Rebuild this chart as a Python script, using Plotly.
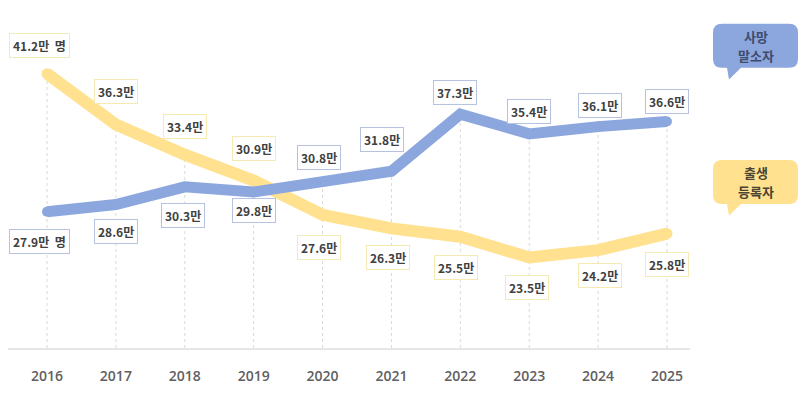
import plotly.graph_objects as go

years = [2016, 2017, 2018, 2019, 2020, 2021, 2022, 2023, 2024, 2025]
births = [41.2, 36.3, 33.4, 30.9, 27.6, 26.3, 25.5, 23.5, 24.2, 25.8]
deaths = [27.9, 28.6, 30.3, 29.8, 30.8, 31.8, 37.3, 35.4, 36.1, 36.6]
birth_labels = ["41.2만  명", "36.3만", "33.4만", "30.9만", "27.6만", "26.3만", "25.5만", "23.5만", "24.2만", "25.8만"]
death_labels = ["27.9만  명", "28.6만", "30.3만", "29.8만", "30.8만", "31.8만", "37.3만", "35.4만", "36.1만", "36.6만"]
tick_labels = [str(y) for y in years]
legend_death = ["사망", "말소자"]
legend_birth = ["출생", "등록자"]

YELLOW = "#FFE18F"
BLUE = "#8CA6DE"
W, H = 800, 393
ML, MR, MT, MB = 8, 110, 10, 38
PW, PH = W - ML - MR, H - MT - MB

def px_to_paper(px, py):
    return (px - ML) / PW, (H - MB - py) / PH

fig = go.Figure()

# vertical dotted guides from baseline up to the higher point
for x, b, d in zip(years, births, deaths):
    fig.add_shape(type="line", xref="x", yref="y", x0=x, x1=x, y0=14.78, y1=max(b, d),
                  line=dict(color="#d9d9d9", width=1, dash="dot"), layer="below")

fig.add_trace(go.Scatter(x=years, y=births, mode="lines+markers",
                         line=dict(color=YELLOW, width=12),
                         marker=dict(color=YELLOW, size=11), hoverinfo="skip"))
fig.add_trace(go.Scatter(x=years, y=deaths, mode="lines+markers",
                         line=dict(color=BLUE, width=11),
                         marker=dict(color=BLUE, size=10), hoverinfo="skip"))

# label offsets (pixels): (xshift, yshift)
birth_off = [(-7, 28), (0, 33), (0, 28), (0, 32), (-4, -33), (-3, -29), (-4, -31), (-2, -30), (2, -25), (0, -31)]
death_off = [(-7, -30), (0, -27), (-2, -29), (0, -18), (-4, 24), (-9, 32), (-5, 22), (0, 22), (2, 21), (0, 20)]

for x, v, t, (dx, dy) in zip(years, births, birth_labels, birth_off):
    fig.add_annotation(x=x, y=v, text=f"<b>{t}</b>", showarrow=False, xshift=dx, yshift=dy,
                       font=dict(family="Noto Sans CJK KR", size=12, color="#404040"),
                       bgcolor="white", bordercolor="#F6EAB4", borderwidth=1, borderpad=3)
for x, v, t, (dx, dy) in zip(years, deaths, death_labels, death_off):
    fig.add_annotation(x=x, y=v, text=f"<b>{t}</b>", showarrow=False, xshift=dx, yshift=dy,
                       font=dict(family="Noto Sans CJK KR", size=12, color="#404040"),
                       bgcolor="white", bordercolor="#B5C3E0", borderwidth=1, borderpad=3)

# speech-bubble legends
def bubble(x0, y0, x1, y1, color, r=9):
    def P(px, py):
        a, b = px_to_paper(px, py)
        return f"{a:.5f},{b:.5f}"
    path = (f"M {P(x0 + r, y0)} L {P(x1 - r, y0)} Q {P(x1, y0)} {P(x1, y0 + r)} "
            f"L {P(x1, y1 - r)} Q {P(x1, y1)} {P(x1 - r, y1)} "
            f"L {P(x0 + 28, y1)} L {P(x0 + 16, y1 + 12)} L {P(x0 + 14, y1)} "
            f"L {P(x0 + r, y1)} Q {P(x0, y1)} {P(x0, y1 - r)} "
            f"L {P(x0, y0 + r)} Q {P(x0, y0)} {P(x0 + r, y0)} Z")
    fig.add_shape(type="path", xref="paper", yref="paper", path=path,
                  fillcolor=color, line=dict(width=0), layer="below")

bubble(713, 24, 798, 69, BLUE)
bubble(713, 163, 798, 208, YELLOW)
for lines, cy, col in [(legend_death, 37, "#3E4C6E"), (legend_birth, 176, "#4A4435")]:
    for i, text in enumerate(lines):
        ax, ay = px_to_paper(756, cy + i * 19)
        fig.add_annotation(xref="paper", yref="paper", x=ax, y=ay, text=f"<b>{text}</b>",
                           showarrow=False, xanchor="center", yanchor="middle",
                           font=dict(family="Noto Sans CJK KR", size=13, color=col))

fig.update_layout(
    width=W, height=H, margin=dict(l=ML, r=MR, t=MT, b=MB),
    paper_bgcolor="white", plot_bgcolor="white", showlegend=False,
    xaxis=dict(range=[2015.434, 2025.334], tickvals=years, ticktext=tick_labels,
               showgrid=False, zeroline=False, showline=True, linecolor="#E6E6E6", linewidth=2,
               ticks="", ticklabelstandoff=14, fixedrange=True,
               tickfont=dict(family="Open Sans", size=14, color="#606060", weight=600)),
    yaxis=dict(range=[14.78, 47.33], visible=False, showgrid=False, zeroline=False, fixedrange=True),
)

fig.write_html("out.html", config={"displayModeBar": False},
               post_script="document.body.style.margin='0';")
